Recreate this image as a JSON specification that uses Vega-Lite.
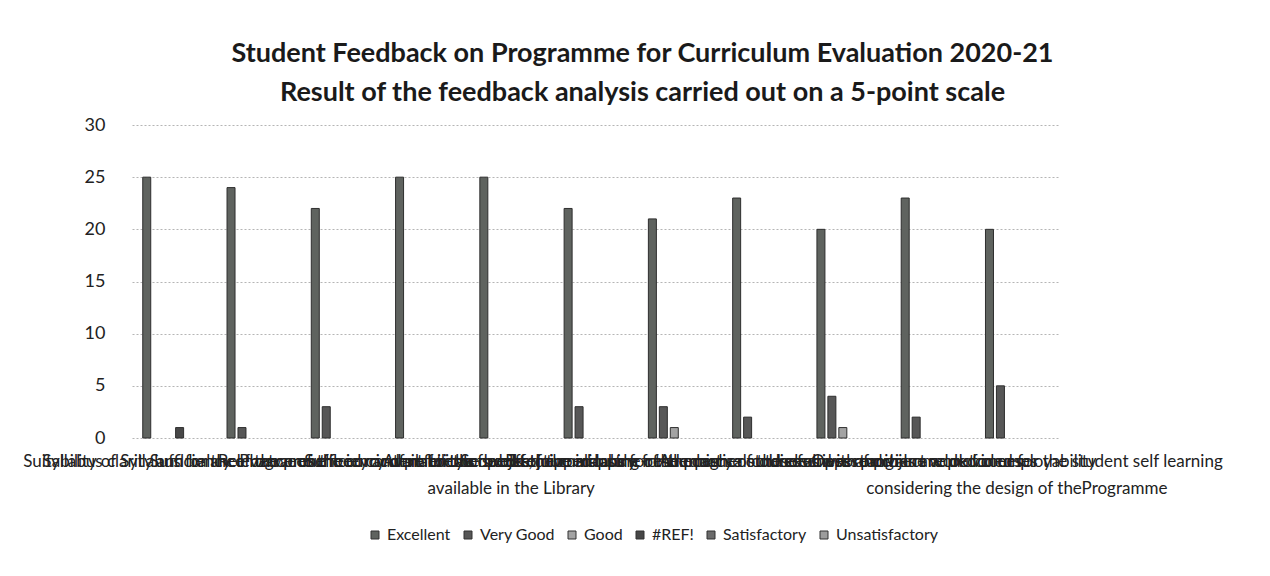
{
  "$schema": "https://vega.github.io/schema/vega-lite/v6.json",
  "width": 927,
  "height": 313,
  "autosize": {"type": "none"},
  "padding": {"left": 132, "top": 125, "right": 211, "bottom": 138},
  "background": "white",
  "title": {
    "text": ["Student Feedback on Programme for Curriculum Evaluation 2020-21", "Result of the feedback analysis carried out on a 5-point scale"],
    "font": "Lato",
    "fontSize": 27,
    "fontWeight": "bold",
    "color": "#1a1a1a",
    "anchor": "middle",
    "dx": 47,
    "offset": 9,
    "lineHeight": 39
  },
  "data": {
    "values": [
      {"criterion": "Suitability of Syllabus for the Programme", "rating": "Excellent", "count": 25},
      {"criterion": "Suitability of Syllabus for the Programme", "rating": "#REF!", "count": 1},
      {"criterion": "Syllabus clarity and balance between theory and practicals", "rating": "Excellent", "count": 24},
      {"criterion": "Syllabus clarity and balance between theory and practicals", "rating": "Very Good", "count": 1},
      {"criterion": "Sufficiency of the prescribed content for the subject", "rating": "Excellent", "count": 22},
      {"criterion": "Sufficiency of the prescribed content for the subject", "rating": "Very Good", "count": 3},
      {"criterion": "Relevance of the curriculum to the needs of the industry", "rating": "Excellent", "count": 25},
      {"criterion": "Sufficiency of reference books, journals and e-resources|available in the Library", "rating": "Excellent", "count": 25},
      {"criterion": "Availability of well equipped labs for the practical courses", "rating": "Excellent", "count": 22},
      {"criterion": "Availability of well equipped labs for the practical courses", "rating": "Very Good", "count": 3},
      {"criterion": "Scope of the curriculum for the higher studies and research", "rating": "Excellent", "count": 21},
      {"criterion": "Scope of the curriculum for the higher studies and research", "rating": "Very Good", "count": 3},
      {"criterion": "Scope of the curriculum for the higher studies and research", "rating": "Good", "count": 1},
      {"criterion": "Effective mapping of the course outcomes with programme outcomes", "rating": "Excellent", "count": 23},
      {"criterion": "Effective mapping of the course outcomes with programme outcomes", "rating": "Very Good", "count": 2},
      {"criterion": "Adequacy of the electives and value added courses", "rating": "Excellent", "count": 20},
      {"criterion": "Adequacy of the electives and value added courses", "rating": "Very Good", "count": 4},
      {"criterion": "Adequacy of the electives and value added courses", "rating": "Good", "count": 1},
      {"criterion": "Usefulness of project work for employability", "rating": "Excellent", "count": 23},
      {"criterion": "Usefulness of project work for employability", "rating": "Very Good", "count": 2},
      {"criterion": "Opportunities are provided for the student self  learning|considering the  design of theProgramme", "rating": "Excellent", "count": 20},
      {"criterion": "Opportunities are provided for the student self  learning|considering the  design of theProgramme", "rating": "Very Good", "count": 5}
    ]
  },
  "mark": {"type": "bar", "stroke": "#2e2e2e", "strokeWidth": 1},
  "encoding": {
    "x": {
      "field": "criterion",
      "type": "nominal",
      "sort": null,
      "scale": {"paddingInner": 0.22, "paddingOuter": 0.11},
      "axis": {
        "title": null,
        "labelAngle": 0,
        "labelFont": "Lato",
        "labelFontSize": 17,
        "labelColor": "#222222",
        "labelPadding": 15,
        "labelOverlap": false,
        "labelLimit": 0,
        "labelBound": false,
        "labelFlush": false,
        "labelLineHeight": 27,
        "labelExpr": "split(datum.label, '|')",
        "domain": false,
        "ticks": false,
        "grid": false
      }
    },
    "xOffset": {
      "field": "rating",
      "type": "nominal",
      "scale": {"domain": ["Excellent", "Very Good", "Good", "#REF!", "Satisfactory", "Unsatisfactory"], "paddingInner": 0.27, "paddingOuter": 0.135}
    },
    "y": {
      "field": "count",
      "type": "quantitative",
      "scale": {"domain": [0, 30]},
      "axis": {
        "title": null,
        "values": [0, 5, 10, 15, 20, 25, 30],
        "labelFont": "Lato",
        "labelFontSize": 18,
        "labelColor": "#222222",
        "labelPadding": 27,
        "domain": false,
        "ticks": false,
        "grid": true,
        "gridColor": "#b5b5b5",
        "gridDash": [2, 2],
        "gridWidth": 1
      }
    },
    "color": {
      "field": "rating",
      "type": "nominal",
      "scale": {
        "domain": ["Excellent", "Very Good", "Good", "#REF!", "Satisfactory", "Unsatisfactory"],
        "range": ["#5f635f", "#575757", "#a3a3a3", "#474747", "#6b6b6b", "#9c9c9c"]
      },
      "legend": {
        "title": null,
        "orient": "none",
        "legendX": 235,
        "legendY": 402,
        "direction": "horizontal",
        "symbolType": "square",
        "symbolSize": 64,
        "symbolStrokeColor": "#333333",
        "symbolStrokeWidth": 1,
        "labelFont": "Lato",
        "labelFontSize": 16,
        "labelColor": "#222222",
        "columnPadding": 9,
        "labelOffset": 4
      }
    }
  },
  "config": {"view": {"stroke": null}}
}
